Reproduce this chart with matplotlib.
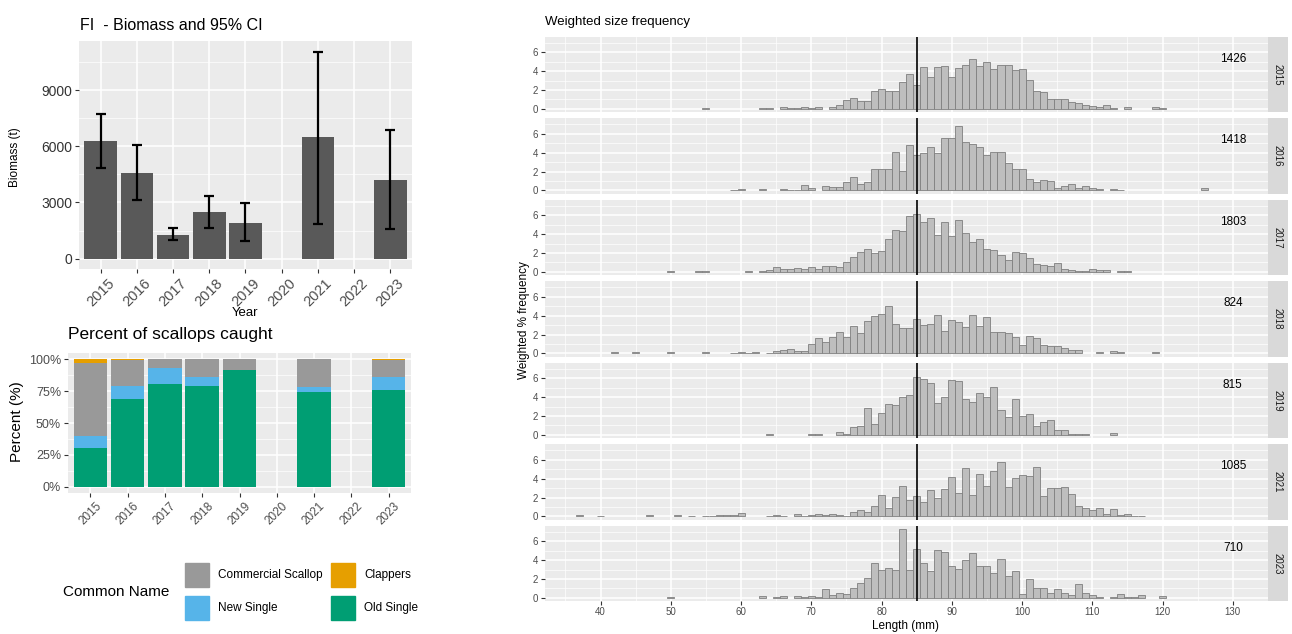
import matplotlib.pyplot as plt
import numpy as np
from matplotlib.patches import Rectangle

plt.rcParams["font.family"] = ["Liberation Sans", "DejaVu Sans"]

# ---- data: biomass with 95% CI ----
years = ["2015", "2016", "2017", "2018", "2019", "2020", "2021", "2022", "2023"]
biomass = [6300, 4580, 1280, 2500, 1930, np.nan, 6480, np.nan, 4190]
ci_low = [4850, 3120, 990, 1650, 920, np.nan, 1860, np.nan, 1600]
ci_high = [7750, 6070, 1610, 3350, 2960, np.nan, 11060, np.nan, 6850]

# ---- data: percent of scallops caught ----
old_single = [30.2, 69.0, 81.0, 79.3, 91.6, np.nan, 74.5, np.nan, 76.0]
new_single = [9.4, 10.4, 12.0, 6.7, 0.0, np.nan, 3.4, np.nan, 10.0]
commercial = [57.8, 19.9, 7.0, 14.0, 8.4, np.nan, 22.1, np.nan, 13.6]
clappers = [2.6, 0.7, 0.0, 0.0, 0.0, np.nan, 0.0, np.nan, 0.4]

# ---- data: weighted size frequency (1 mm bins), first bin + values ----
start_2015 = 55
freq_2015 = [0.1, 0, 0, 0, 0, 0, 0, 0, 0.05, 0.05, 0, 0.15, 0.08, 0.1, 0.22, 0.1,
             0.2, 0, 0.2, 0.38, 0.9, 1.2, 0.85, 0.85, 1.9, 2.1, 1.9, 1.9, 2.8, 3.7,
             2.5, 4.4, 3.4, 4.4, 4.55, 3.4, 4.3, 4.6, 5.3, 4.5, 4.95, 4.2, 4.6, 4.65,
             4.1, 4.2, 3.1, 1.9, 1.75, 1.1, 1.1, 1.05, 0.75, 0.6, 0.4, 0.3, 0.15, 0.4,
             0.07, 0, 0.25, 0, 0, 0, 0.15, 0.1]
start_2016 = 59
freq_2016 = [0.05, 0.12, 0, 0, 0.1, 0, 0, 0.15, 0.07, 0.05, 0.55, 0.25, 0, 0.5, 0.4,
             0.4, 0.9, 1.45, 0.65, 0.9, 2.25, 2.25, 2.3, 4.05, 2.1, 4.8, 3.8, 3.95,
             4.55, 4.0, 5.5, 5.6, 6.8, 5.1, 4.9, 4.6, 3.8, 4.1, 4.1, 2.95, 2.25, 2.25,
             1.2, 0.9, 1.05, 1.0, 0.3, 0.45, 0.7, 0.25, 0.45, 0.3, 0.15, 0, 0.2, 0.07,
             0, 0, 0, 0, 0, 0, 0, 0, 0, 0, 0, 0.3]
start_2017 = 50
freq_2017 = [0.05, 0, 0, 0, 0.07, 0.05, 0, 0, 0, 0, 0, 0.07, 0, 0.05, 0.15, 0.55,
             0.3, 0.32, 0.42, 0.32, 0.57, 0.3, 0.6, 0.65, 0.57, 1.0, 1.55, 2.15, 2.4,
             2.05, 2.2, 3.5, 4.4, 4.3, 5.9, 6.1, 5.25, 5.7, 3.95, 5.25, 3.85, 5.45,
             4.15, 3.2, 3.45, 2.4, 2.3, 1.75, 1.3, 2.1, 1.95, 1.5, 0.8, 0.75, 0.65,
             0.95, 0.3, 0.15, 0.1, 0.1, 0.3, 0.2, 0.2, 0, 0.07, 0.07]
start_2018 = 42
freq_2018 = [0.1, 0, 0, 0.1, 0, 0, 0, 0, 0.15, 0, 0, 0, 0, 0.1, 0, 0, 0, 0.05, 0.1,
             0.05, 0.15, 0, 0.05, 0.3, 0.35, 0.45, 0.28, 0.3, 0.95, 1.65, 1.2, 1.7,
             2.3, 1.7, 2.9, 2.15, 3.4, 3.95, 4.2, 5.05, 3.15, 2.65, 2.65, 3.6, 3.0,
             3.15, 4.05, 2.4, 3.5, 3.35, 2.85, 4.05, 2.95, 3.9, 2.3, 2.25, 2.2, 1.7,
             0.9, 1.85, 1.65, 0.9, 0.75, 0.75, 0.55, 0.4, 0.4, 0, 0, 0.15, 0, 0.3,
             0.15, 0, 0, 0, 0, 0.1]
start_2019 = 64
freq_2019 = [0.07, 0, 0, 0, 0, 0, 0.07, 0.07, 0, 0, 0.28, 0.07, 0.85, 0.9, 2.8, 1.2,
             2.35, 3.25, 3.15, 4.0, 4.2, 6.1, 5.9, 5.5, 3.35, 4.05, 5.8, 5.7, 3.85,
             3.45, 4.4, 4.0, 5.1, 2.65, 1.9, 3.8, 2.05, 2.2, 0.9, 1.35, 1.6, 0.55,
             0.5, 0.07, 0.07, 0.07, 0, 0, 0, 0.25]
start_2021 = 37
freq_2021 = [0.1, 0, 0, 0.07, 0, 0, 0, 0, 0, 0, 0.15, 0, 0, 0, 0.15, 0, 0.07, 0,
             0.05, 0.05, 0.15, 0.1, 0.1, 0.35, 0, 0, 0, 0.07, 0.1, 0.05, 0, 0.22,
             0.07, 0.17, 0.22, 0.15, 0.3, 0.1, 0.08, 0.42, 0.7, 0.5, 1.1, 2.3, 0.9,
             2.07, 3.2, 1.7, 2.15, 1.55, 2.75, 2.0, 2.9, 4.15, 2.5, 5.1, 2.3, 4.5,
             3.2, 4.8, 5.8, 3.15, 4.05, 4.4, 4.25, 5.25, 2.2, 3.0, 3.0, 3.1, 2.4,
             1.15, 0.85, 0.65, 0.85, 0.3, 0.75, 0.15, 0.3, 0.07, 0.07]
start_2023 = 50
freq_2023 = [0.05, 0, 0, 0, 0, 0, 0, 0, 0, 0, 0, 0, 0, 0.25, 0, 0.1, 0.25, 0, 0.22,
             0.12, 0.25, 0.1, 0.95, 0.32, 0.57, 0.42, 1.1, 1.55, 2.07, 3.75, 2.95,
             3.12, 3.0, 7.25, 3.0, 5.2, 3.7, 2.8, 5.05, 4.85, 3.4, 3.1, 4.0, 4.75,
             3.35, 3.35, 2.6, 4.1, 2.3, 2.85, 0.4, 1.95, 1.1, 1.1, 0.55, 0.95, 0.5,
             0.3, 1.45, 0.55, 0.3, 0.1, 0, 0.05, 0.4, 0.05, 0.05, 0.35, 0, 0, 0.25]
sample_n = ["1426", "1418", "1803", "824", "815", "1085", "710"]
facet_years = ["2015", "2016", "2017", "2018", "2019", "2021", "2023"]
size_series = [(start_2015, freq_2015), (start_2016, freq_2016), (start_2017, freq_2017),
               (start_2018, freq_2018), (start_2019, freq_2019), (start_2021, freq_2021),
               (start_2023, freq_2023)]

W, H = 1292, 634
fig = plt.figure(figsize=(W / 100, H / 100), dpi=100)


def px_axes(x0, y0, x1, y1):
    return fig.add_axes([x0 / W, 1 - y1 / H, (x1 - x0) / W, (y1 - y0) / H])


panel_bg = "#EBEBEB"
tick_grey = "#4D4D4D"


def gg_style(ax, labelsize):
    ax.set_facecolor(panel_bg)
    for s in ax.spines.values():
        s.set_visible(False)
    ax.grid(True, which="major", color="white", linewidth=1.1)
    ax.grid(True, which="minor", color="white", linewidth=0.5)
    ax.set_axisbelow(True)
    ax.tick_params(which="major", color="#333333", length=3, width=0.8,
                   labelcolor=tick_grey, labelsize=labelsize, pad=2)
    ax.tick_params(which="minor", length=0)


xpos = np.arange(len(years))

# ---- biomass bar chart ----
ax1 = px_axes(79, 41, 412, 269)
gg_style(ax1, 10)
ax1.bar(xpos, biomass, width=0.9, color="#595959")
yerr = [np.array(biomass) - np.array(ci_low), np.array(ci_high) - np.array(biomass)]
ax1.errorbar(xpos, biomass, yerr=yerr, fmt="none", ecolor="black", elinewidth=1.6,
             capsize=3.5, capthick=1.6)
ax1.set_xlim(-0.6, 8.6)
ax1.set_ylim(-553, 11623)
ax1.set_yticks([0, 3000, 6000, 9000])
ax1.set_yticks([1500, 4500, 7500, 10500], minor=True)
ax1.set_xticks(xpos)
ax1.set_xticklabels(years, rotation=45, ha="center")
ax1.tick_params(axis="x", labelsize=10.5)
ax1.tick_params(axis="y", labelcolor="#333333")
fig.text(80 / W, 1 - 25 / H, "FI  - Biomass and 95% CI", fontsize=11.5, va="center")
fig.text(15 / W, 1 - 157 / H, "Biomass (t)", fontsize=8.5, rotation=90, va="center",
         ha="center")
fig.text(245 / W, 1 - 313 / H, "Year", fontsize=9.5, va="center", ha="center")

# ---- percent stacked bars ----
ax2 = px_axes(68, 353, 411, 493)
gg_style(ax2, 9)
colors = {"Old Single": "#009E73", "New Single": "#56B4E9",
          "Commercial Scallop": "#999999", "Clappers": "#E69F00"}
bottom = np.zeros(len(years))
for name, vals in [("Old Single", old_single), ("New Single", new_single),
                   ("Commercial Scallop", commercial), ("Clappers", clappers)]:
    v = np.nan_to_num(np.array(vals))
    ax2.bar(xpos, v, bottom=bottom, width=0.9, color=colors[name])
    bottom = bottom + v
ax2.set_xlim(-0.6, 8.6)
ax2.set_ylim(-5, 105)
ax2.set_yticks([0, 25, 50, 75, 100])
ax2.set_yticklabels(["0%", "25%", "50%", "75%", "100%"])
ax2.set_yticks([12.5, 37.5, 62.5, 87.5], minor=True)
ax2.set_xticks(xpos)
ax2.set_xticklabels(years, rotation=45, ha="center")
ax2.tick_params(axis="x", labelsize=8.5)
fig.text(68 / W, 1 - 334 / H, "Percent of scallops caught", fontsize=12.5, va="center")
fig.text(17 / W, 1 - 422 / H, "Percent (%)", fontsize=11, rotation=90, va="center",
         ha="center")

# legend drawn by hand, ggplot style (title on the left, two columns)
fig.text(63 / W, 1 - 592 / H, "Common Name", fontsize=11, va="center")
legend_items = [("Commercial Scallop", 185, 563), ("Clappers", 331, 563),
                ("New Single", 185, 596), ("Old Single", 331, 596)]
for name, lx, ly in legend_items:
    fig.patches.append(Rectangle((lx / W, 1 - (ly + 24) / H), 24 / W, 24 / H,
                                 transform=fig.transFigure, color=colors[name]))
    fig.text((lx + 33) / W, 1 - (ly + 12) / H, name, fontsize=8.5, va="center")

# ---- weighted size frequency facets ----
top0, ph, step = 36.7, 75.6, 81.5
for i, (start, freq) in enumerate(size_series):
    y0 = top0 + i * step
    ax = px_axes(545, y0, 1268, y0 + ph)
    gg_style(ax, 7)
    lengths = np.arange(start, start + len(freq))
    freq = np.array(freq)
    keep = freq > 0
    ax.bar(lengths[keep], freq[keep], width=1.0, color="#BEBEBE", edgecolor="#7F7F7F",
           linewidth=0.6)
    ax.axvline(85, color="black", linewidth=1.2)
    ax.text(130, 5.3, sample_n[i], fontsize=8.5, ha="center", va="center")
    ax.set_xlim(32.1, 134.6)
    ax.set_ylim(-0.36, 7.65)
    ax.set_yticks([0, 2, 4, 6])
    ax.set_yticks([1, 3, 5, 7], minor=True)
    ax.set_xticks(np.arange(40, 131, 10))
    ax.set_xticks(np.arange(35, 136, 10), minor=True)
    ax.tick_params(axis="x", pad=1)
    if i < len(size_series) - 1:
        ax.tick_params(axis="x", which="major", length=0, labelbottom=False)
    # facet strip on the right
    strip = px_axes(1268, y0, 1288, y0 + ph)
    strip.set_facecolor("#D9D9D9")
    strip.set_xticks([])
    strip.set_yticks([])
    for s in strip.spines.values():
        s.set_visible(False)
    strip.text(0.5, 0.5, facet_years[i], rotation=270, ha="center", va="center",
               fontsize=7, color="#1A1A1A", transform=strip.transAxes)

fig.text(545 / W, 1 - 22 / H, "Weighted size frequency", fontsize=9.5, va="center")
fig.text(524 / W, 1 - 320 / H, "Weighted % frequency", fontsize=8.5, rotation=90,
         va="center", ha="center")
fig.text(905 / W, 1 - 626 / H, "Length (mm)", fontsize=8.5, va="center", ha="center")

fig.savefig("out.png", dpi=100)
